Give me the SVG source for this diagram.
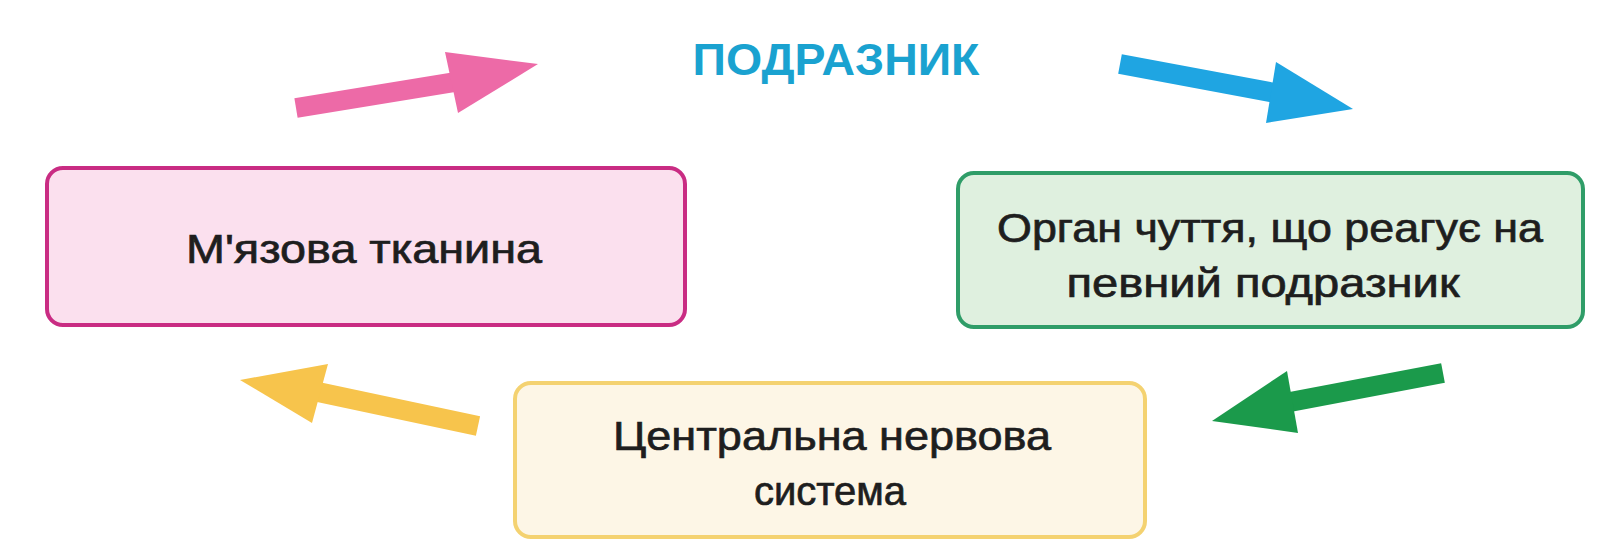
<svg xmlns="http://www.w3.org/2000/svg" width="1616" height="553" viewBox="0 0 1616 553">
  <style>
    .lbl { font-family: "Liberation Sans", Arial, sans-serif; font-size: 40px; fill: #1e1e1e; stroke: #1e1e1e; stroke-width: 0.7; text-anchor: middle; }
    .title { font-family: "Liberation Sans", Arial, sans-serif; font-size: 44px; font-weight: bold; fill: #1aa2d0; text-anchor: middle; }
    .box { stroke-width: 4; }
    .shaft { stroke-width: 20; fill: none; stroke-linecap: butt; }
  </style>
  <rect width="1616" height="553" fill="#ffffff"/>

  <g id="title">
    <text class="title" x="836" y="75" textLength="287" lengthAdjust="spacingAndGlyphs">ПОДРАЗНИК</text>
  </g>

  <g id="muscle">
    <rect class="box" x="47" y="168" width="638" height="157" rx="16" fill="#fbe0ee" stroke="#c92c83"/>
    <text class="lbl" x="364" y="263" textLength="356" lengthAdjust="spacingAndGlyphs">М'язова тканина</text>
  </g>

  <g id="organ">
    <rect class="box" x="958" y="173" width="625" height="154" rx="16" fill="#dff0df" stroke="#2f9d68"/>
    <text class="lbl" x="1270" y="242" textLength="546" lengthAdjust="spacingAndGlyphs">Орган чуття, що реагує на</text>
    <text class="lbl" x="1263" y="297" textLength="393" lengthAdjust="spacingAndGlyphs">певний подразник</text>
  </g>

  <g id="cns">
    <rect class="box" x="515" y="383" width="630" height="154" rx="16" fill="#fdf6e6" stroke="#f4d271"/>
    <text class="lbl" x="832" y="450" textLength="438" lengthAdjust="spacingAndGlyphs">Центральна нервова</text>
    <text class="lbl" x="830" y="505">система</text>
  </g>

  <g id="connectors">
    <g id="arrow-pink">
      <line class="shaft" x1="296" y1="108" x2="455" y2="82" stroke="#ed6aa7"/>
      <polygon points="445,52 538,64 458,113" fill="#ed6aa7"/>
    </g>
    <g id="arrow-blue">
      <line class="shaft" x1="1120" y1="64" x2="1275" y2="93" stroke="#1fa5e2"/>
      <polygon points="1276,62 1353,109 1266,123" fill="#1fa5e2"/>
    </g>
    <g id="arrow-green">
      <line class="shaft" x1="1443" y1="373" x2="1290" y2="402" stroke="#1b9a4b"/>
      <polygon points="1287,371 1212,421 1298,433" fill="#1b9a4b"/>
    </g>
    <g id="arrow-yellow">
      <line class="shaft" x1="478" y1="426" x2="318" y2="392" stroke="#f7c44c"/>
      <polygon points="328,364 240,380 312,423" fill="#f7c44c"/>
    </g>
  </g>
</svg>
